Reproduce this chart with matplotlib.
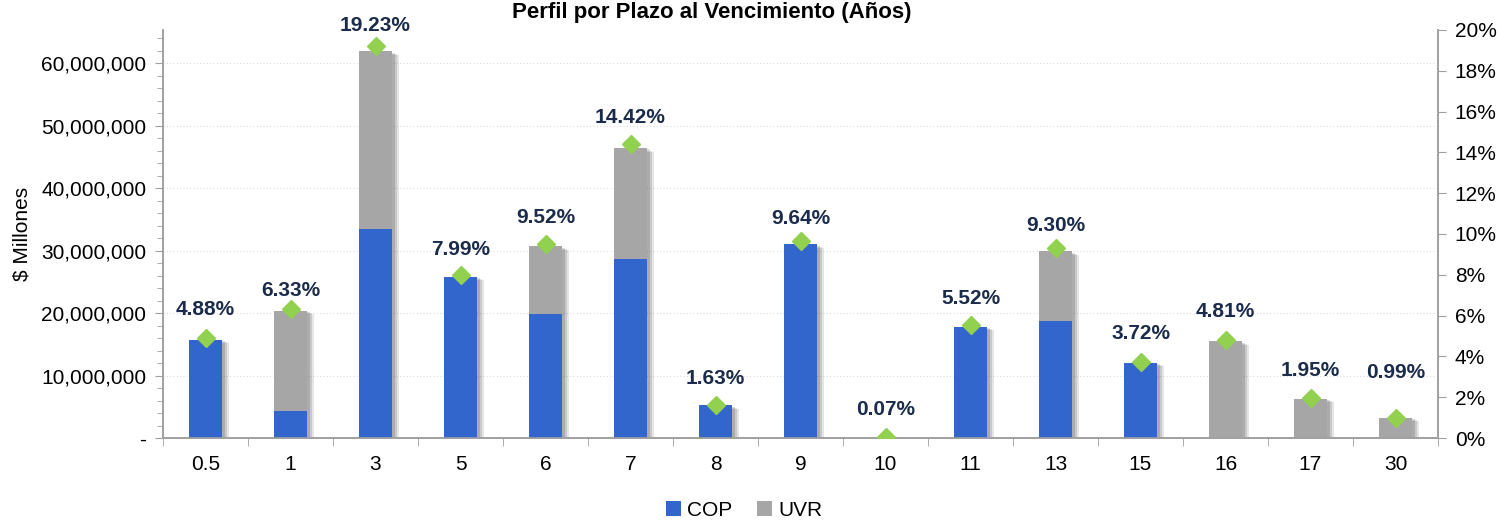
import matplotlib
matplotlib.use("Agg")
import matplotlib.pyplot as plt
import matplotlib.patheffects as pe
from matplotlib.patches import Patch
from matplotlib.ticker import FuncFormatter, MultipleLocator, PercentFormatter
import numpy as np

# ---- data ----
categories = ["0.5", "1", "3", "5", "6", "7", "8", "9", "10", "11", "13", "15", "16", "17", "30"]
cop = [15.7e6, 4.4e6, 33.4e6, 25.8e6, 19.8e6, 28.6e6, 5.25e6, 31.0e6, 0.0, 17.8e6, 18.7e6, 12.0e6, 0.0, 0.0, 0.0]
uvr = [0.0, 16.0e6, 28.5e6, 0.0, 10.9e6, 17.8e6, 0.0, 0.0, 0.23e6, 0.0, 11.2e6, 0.0, 15.5e6, 6.3e6, 3.2e6]
pct = [4.88, 6.33, 19.23, 7.99, 9.52, 14.42, 1.63, 9.64, 0.07, 5.52, 9.30, 3.72, 4.81, 1.95, 0.99]

# ---- style ----
label_dy = [29, 18, 20, 26, 26, 26, 26, 23, 27, 27, 23, 29, 28, 28, 45]  # pixel offsets of value labels
FONT = ["Liberation Sans Narrow", "Liberation Sans", "DejaVu Sans"]
plt.rcParams["font.family"] = FONT
BLUE = "#3366CC"
GRAY = "#A6A6A6"
GREEN = "#92D050"
NAVY = "#1B2B4B"
SPINE = "#A0A0A0"
TICKFS = 15

fig = plt.figure(figsize=(14.97, 5.20), dpi=100)
ax = fig.add_axes([163 / 1497, 1 - 438 / 520, (1438 - 163) / 1497, (438 - 30) / 520])
ax2 = ax.twinx()

x = np.arange(len(categories))
w = 0.39
total = np.array(cop) + np.array(uvr)

# soft shadow behind each stacked column
for dx, a in [(5, 0.10), (3.5, 0.12), (2, 0.14)]:
    sb = ax.bar(x, total, width=w, color="none", zorder=2)
    for b in sb:
        b.set_path_effects([pe.SimplePatchShadow(offset=(dx, -dx * 0.5), shadow_rgbFace="#000000", alpha=a)])

b1 = ax.bar(x, cop, width=w, color=BLUE, zorder=3)
b2 = ax.bar(x, uvr, width=w, bottom=cop, color=GRAY, zorder=3)

ax.set_xlim(-0.5, len(categories) - 0.5)
ax.set_ylim(0, 65.3e6)
ax.yaxis.set_major_locator(MultipleLocator(10e6))
ax.yaxis.set_minor_locator(MultipleLocator(2e6))
ax.yaxis.set_major_formatter(FuncFormatter(lambda v, p: "-" if v == 0 else f"{v:,.0f}"))
ax.grid(axis="y", which="major", color="#DDDDDD", linestyle=(0, (1, 2)), linewidth=0.8, zorder=0)
ax.set_axisbelow(True)

ax.set_xticks(x)
ax.set_xticklabels(categories)
ax.set_xticks(np.arange(-0.5, len(categories), 1), minor=True)
ax.tick_params(axis="x", which="major", length=0, pad=12, labelsize=TICKFS)
ax.tick_params(axis="x", which="minor", length=6, color=SPINE, direction="out")
ax.tick_params(axis="y", which="major", length=6, color=SPINE, labelsize=TICKFS, pad=6)
ax.tick_params(axis="y", which="minor", length=4, color=SPINE)
ax.set_ylabel("$ Millones", fontsize=TICKFS)
ax.yaxis.set_label_coords((32 - 163) / 1275, 0.5)

for s in ["top"]:
    ax.spines[s].set_visible(False)
    ax2.spines[s].set_visible(False)
for s in ["left", "bottom", "right"]:
    for a_ in (ax, ax2):
        a_.spines[s].set_color(SPINE)
        a_.spines[s].set_linewidth(1.2)

ax2.set_ylim(0, 20)
ax2.yaxis.set_major_locator(MultipleLocator(2))
ax2.yaxis.set_major_formatter(PercentFormatter(decimals=0))
ax2.tick_params(axis="y", length=6, color=SPINE, labelsize=TICKFS, pad=6)
ax2.plot(x, pct, linestyle="none", marker="D", markersize=9, color=GREEN, zorder=5)

for xi, p, dy in zip(x, pct, label_dy):
    ax2.annotate(f"{p:.2f}%", (xi, p), xytext=(0, dy), textcoords="offset pixels",
                 ha="center", va="center", fontsize=15, fontweight="bold", color=NAVY)

fig.text(712 / 1497, 1 - 18 / 520, "Perfil por Plazo al Vencimiento (Años)", ha="center",
         va="baseline", fontsize=16, fontweight="bold", color="#000000")

handles = [Patch(facecolor=BLUE, edgecolor="none"), Patch(facecolor=GRAY, edgecolor="none")]
fig.legend(handles=handles, labels=["COP", "UVR"], loc="center", bbox_to_anchor=(744 / 1497, 1 - 510 / 520),
           ncol=2, frameon=False, fontsize=TICKFS, handlelength=0.7, handleheight=0.7, handletextpad=0.3,
           columnspacing=1.2)

fig.savefig("out.png", dpi=100)
